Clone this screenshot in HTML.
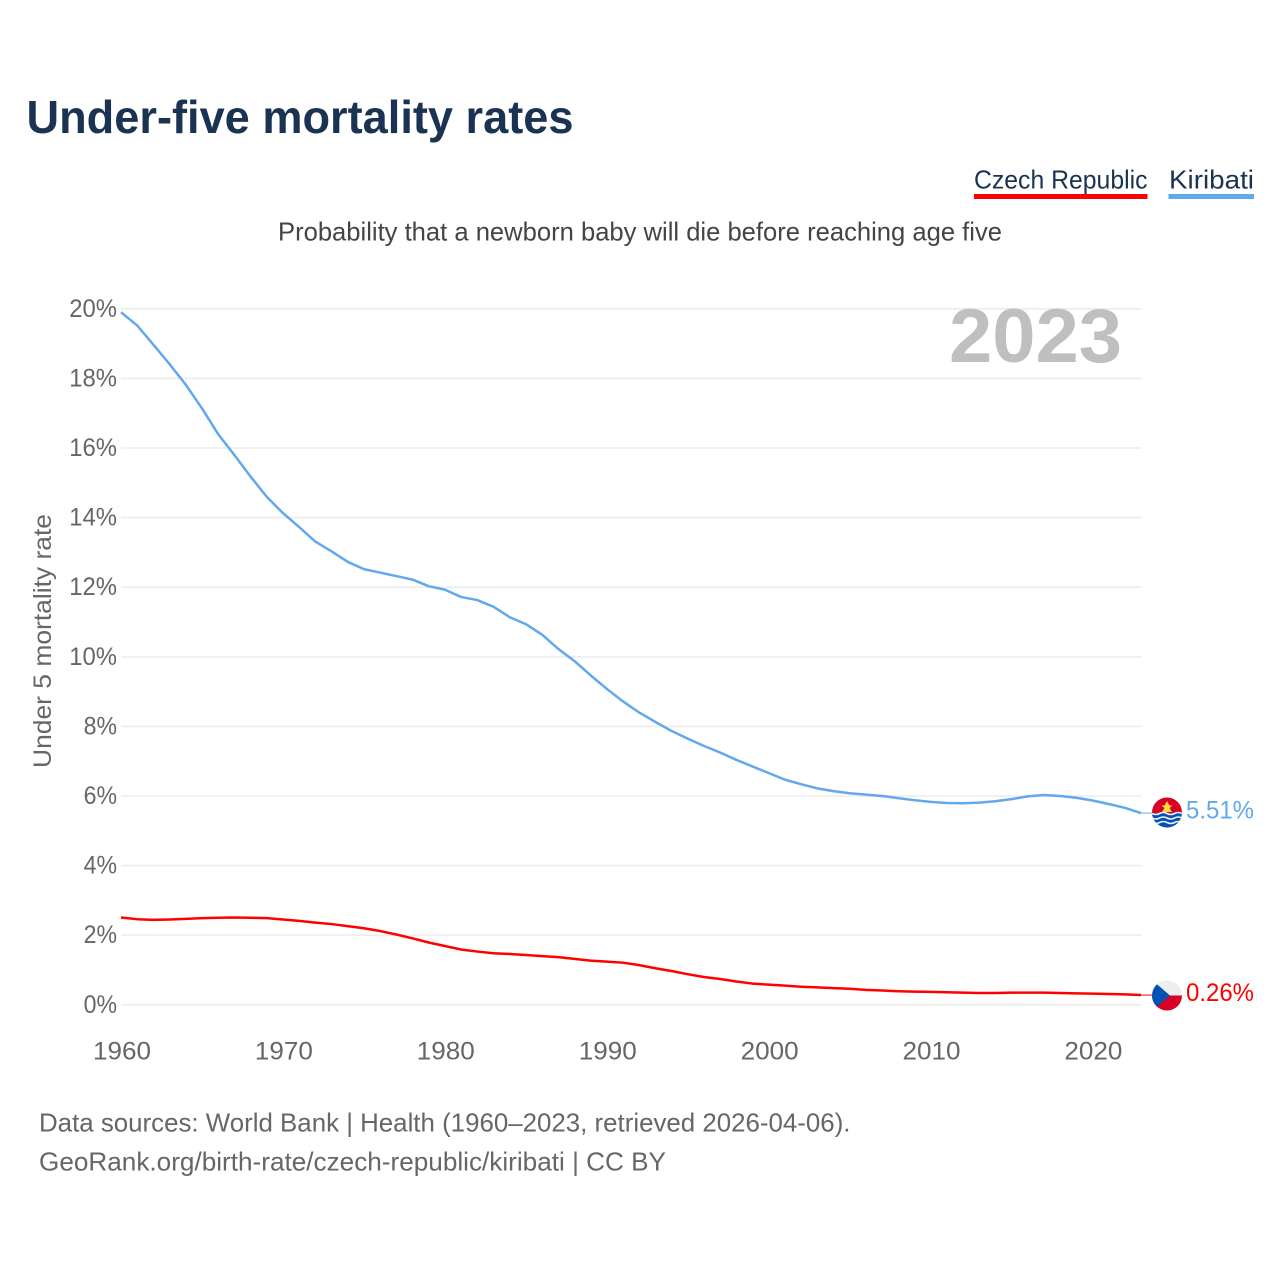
<!DOCTYPE html>
<html lang="en">
<head>
<meta charset="utf-8">
<title>Under-five mortality rates</title>
<style>
html,body{margin:0;padding:0;background:#fff;width:1280px;height:1280px;overflow:hidden}
svg{display:block}
text{font-family:"Liberation Sans",sans-serif}
</style>
</head>
<body>
<svg id="chart" xmlns="http://www.w3.org/2000/svg" width="1280" height="1280" viewBox="0 0 1280 1280">
  <rect width="1280" height="1280" fill="#fff"/>
  <text x="26.500" y="133" font-size="46" font-weight="700" fill="#1a3353" textLength="547" lengthAdjust="spacingAndGlyphs">Under-five mortality rates</text>

  <g>
    <text x="974" y="188.500" font-size="26" fill="#1a3353" textLength="173.500" lengthAdjust="spacingAndGlyphs">Czech Republic</text>
    <rect x="974" y="194" width="173.500" height="5" fill="#ff0000"/>
  </g>
  <g>
    <text x="1169" y="188.500" font-size="26" fill="#1a3353" textLength="85" lengthAdjust="spacingAndGlyphs">Kiribati</text>
    <rect x="1168.500" y="194" width="85.500" height="5" fill="#62a8ec"/>
  </g>

  <text x="278" y="240.500" font-size="26" fill="#444" textLength="724" lengthAdjust="spacingAndGlyphs">Probability that a newborn baby will die before reaching age five</text>
  <text transform="translate(51,768) rotate(-90)" font-size="25" fill="#666" textLength="254" lengthAdjust="spacingAndGlyphs">Under 5 mortality rate</text>

  <g id="grid"></g>
  <g id="yticks"></g>
  <g id="xticks"></g>

  <text x="949" y="362" font-size="76" font-weight="700" fill="#bfbfbf" textLength="173" lengthAdjust="spacingAndGlyphs">2023</text>

  <g id="series"></g>

  <defs>
    <clipPath id="clip-ki"><circle cx="1167" cy="812.500" r="15"/></clipPath>
    <clipPath id="clip-cz"><circle cx="1167" cy="995.500" r="15"/></clipPath>
  </defs>

  <g clip-path="url(#clip-ki)">
    <rect x="1152" y="797" width="30" height="16" fill="#d80027"/>
    <rect x="1152" y="813" width="30" height="15" fill="#0052b4"/>
    <path d="M1167 801l2.500 4.500h3l-3 2.500l2.500 4h-10l2.500-4l-3-2.500h3z" fill="#ffda44"/>
    <path d="M1152 813.500q3.750 2 7.500 0t7.500 0t7.500 0t7.500 0" fill="none" stroke="#f0f0f0" stroke-width="1.600"/>
    <path d="M1152 818q3.750 2 7.500 0t7.500 0t7.500 0t7.500 0" fill="none" stroke="#f0f0f0" stroke-width="1.600"/>
    <path d="M1152 822.500q3.750 2 7.500 0t7.500 0t7.500 0t7.500 0" fill="none" stroke="#f0f0f0" stroke-width="1.600"/>
  </g>
  <g clip-path="url(#clip-cz)">
    <rect x="1152" y="980" width="30" height="16" fill="#eeeeee"/>
    <rect x="1152" y="995.500" width="30" height="16" fill="#d80027"/>
    <path d="M1152 980L1170 995.500L1152 1011Z" fill="#0052b4"/>
  </g>

  <g id="endlabels"></g>

  <text x="39" y="1131.500" font-size="26" fill="#666" textLength="811.500" lengthAdjust="spacingAndGlyphs">Data sources: World Bank | Health (1960–2023, retrieved 2026-04-06).</text>
  <text x="39" y="1170.500" font-size="26" fill="#666" textLength="627" lengthAdjust="spacingAndGlyphs">GeoRank.org/birth-rate/czech-republic/kiribati | CC BY</text>
</svg>

<script>
const startYear = 1960;
const kiribatiValues = [
  19.90, 19.52, 18.97, 18.41, 17.82, 17.14, 16.40, 15.80, 15.18, 14.60,
  14.13, 13.73, 13.31, 13.03, 12.73, 12.52, 12.42, 12.32, 12.22, 12.03,
  11.93, 11.72, 11.63, 11.44, 11.14, 10.94, 10.64, 10.23, 9.88, 9.47,
  9.08, 8.72, 8.40, 8.13, 7.87, 7.65, 7.44, 7.25, 7.04, 6.85,
  6.66, 6.47, 6.34, 6.22, 6.14, 6.08, 6.04, 6.00, 5.94, 5.88,
  5.83, 5.80, 5.79, 5.81, 5.85, 5.91, 5.99, 6.03, 6.00, 5.95,
  5.87, 5.77, 5.66, 5.51
];
const czechValues = [
  2.51, 2.46, 2.44, 2.45, 2.47, 2.49, 2.50, 2.51, 2.50, 2.49,
  2.45, 2.41, 2.36, 2.32, 2.26, 2.20, 2.12, 2.02, 1.91, 1.79,
  1.69, 1.59, 1.53, 1.48, 1.46, 1.43, 1.40, 1.37, 1.32, 1.27,
  1.24, 1.21, 1.14, 1.05, 0.97, 0.88, 0.80, 0.74, 0.67, 0.61,
  0.58, 0.55, 0.52, 0.50, 0.48, 0.46, 0.43, 0.41, 0.39, 0.38,
  0.37, 0.36, 0.35, 0.34, 0.34, 0.35, 0.35, 0.35, 0.34, 0.33,
  0.32, 0.31, 0.30, 0.28
];
const yTickValues = [0, 2, 4, 6, 8, 10, 12, 14, 16, 18, 20];
const xTickValues = [1960, 1970, 1980, 1990, 2000, 2010, 2020];
const kiribatiEndLabel = "5.51%";
const czechEndLabel = "0.26%";

const NS = "http://www.w3.org/2000/svg";
function xScale(year) { return 121 + (year - 1960) * (1141 - 121) / 63; }
function yScale(v) { return 1004.8 - v * 34.8; }
function make(tag, attrs, text) {
  const el = document.createElementNS(NS, tag);
  for (const k in attrs) el.setAttribute(k, attrs[k]);
  if (text !== undefined) el.textContent = text;
  return el;
}

const gridGroup = document.getElementById("grid");
const yTickGroup = document.getElementById("yticks");
yTickValues.forEach(function (v) {
  const line = make("line", { x1: 121, x2: 1141, y1: yScale(v), y2: yScale(v), stroke: "#eeeeee", "stroke-width": 1.8 });
  
  
  gridGroup.appendChild(line);
  const label = v + "%";
  const t = make("text", {
    x: 117, y: yScale(v) + 8, "font-size": 25, fill: "#666", "text-anchor": "end",
    textLength: 14.4 * (label.length - 1) + 19, lengthAdjust: "spacingAndGlyphs"
  }, label);
  
  
  yTickGroup.appendChild(t);
});

const xTickGroup = document.getElementById("xticks");
xTickValues.forEach(function (year) {
  const t = make("text", {
    x: xScale(year) + 1, y: 1059.500, "font-size": 25, fill: "#666", "text-anchor": "middle",
    textLength: 58, lengthAdjust: "spacingAndGlyphs"
  }, String(year));
  
  
  xTickGroup.appendChild(t);
});

function linePath(values) {
  return values.map(function (v, i) {
    return (i ? "L" : "M") + xScale(startYear + i).toFixed(2) + " " + yScale(v).toFixed(2);
  }).join("");
}

const seriesGroup = document.getElementById("series");
const kiribatiLine = make("path", { d: linePath(kiribatiValues), fill: "none", stroke: "#62a8ec", "stroke-width": 2.5, "stroke-linejoin": "round" });


seriesGroup.appendChild(kiribatiLine);

const czechLine = make("path", { d: linePath(czechValues), fill: "none", stroke: "#ff0000", "stroke-width": 2.5, "stroke-linejoin": "round" });


seriesGroup.appendChild(czechLine);

const lastX = xScale(startYear + kiribatiValues.length - 1);
const kiribatiLeader = make("line", { x1: lastX, x2: 1152, y1: yScale(kiribatiValues[kiribatiValues.length - 1]), y2: yScale(kiribatiValues[kiribatiValues.length - 1]), stroke: "#62a8ec", "stroke-width": 1 });


seriesGroup.appendChild(kiribatiLeader);

const czechLeader = make("line", { x1: lastX, x2: 1152, y1: yScale(czechValues[czechValues.length - 1]), y2: yScale(czechValues[czechValues.length - 1]), stroke: "#ff0000", "stroke-width": 1 });


seriesGroup.appendChild(czechLeader);

const endGroup = document.getElementById("endlabels");
const kiribatiEnd = make("text", { x: 1186, y: yScale(kiribatiValues[kiribatiValues.length - 1]) + 5.500, "font-size": 25, fill: "#62a8ec", textLength: 68, lengthAdjust: "spacingAndGlyphs" }, kiribatiEndLabel);


endGroup.appendChild(kiribatiEnd);

const czechEnd = make("text", { x: 1186, y: yScale(czechValues[czechValues.length - 1]) + 6, "font-size": 25, fill: "#ff0000", textLength: 68, lengthAdjust: "spacingAndGlyphs" }, czechEndLabel);


endGroup.appendChild(czechEnd);
</script>
</body>
</html>
